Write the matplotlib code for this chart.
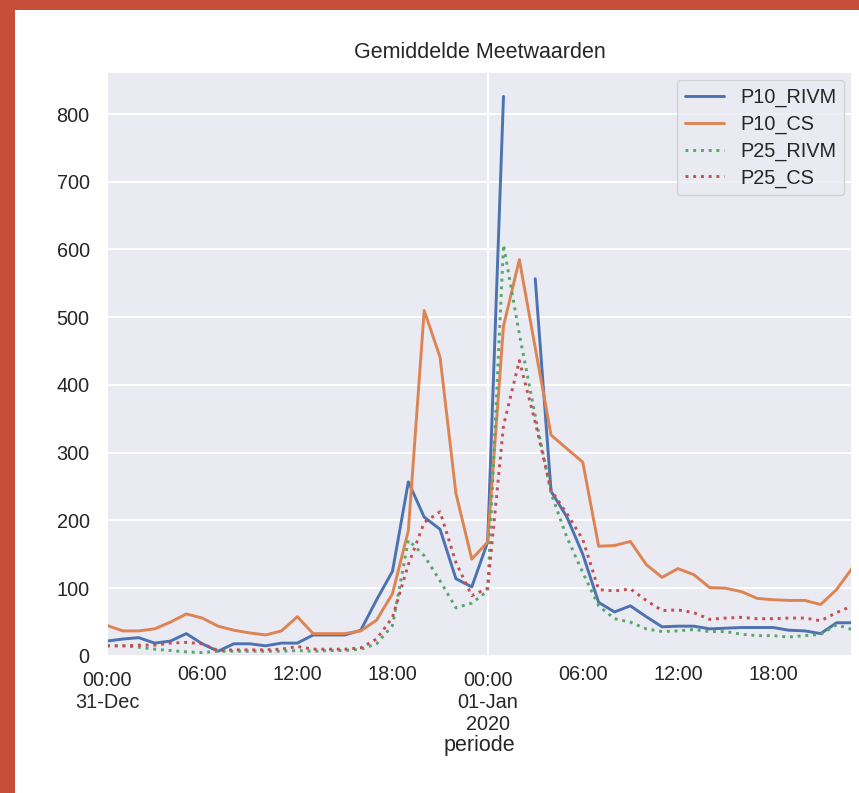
""" Gemiddelde meetwaarden rond de jaarwisseling (P10 / P25, RIVM vs CS). """
import matplotlib

matplotlib.use("Agg")
import matplotlib.pyplot as plt
import numpy as np
import pandas as pd
import seaborn as sns
from matplotlib.patches import Rectangle

#####################################################
# DATA
#####################################################

periode = pd.date_range("2019-12-31 00:00", periods=48, freq="h")

p10_rivm = [22, 25, 27, 19, 22, 33, 18, 7, 18, 18, 15, 19, 19, 31, 31, 31,
            38, 83, 125, 257, 205, 187, 114, 102, 168, 826, np.nan, 557, 243, 205, 150, 79,
            65, 74, 58, 43, 44, 44, 40, 41, 42, 42, 42, 38, 37, 33, 49, 49]
p10_cs = [45, 37, 37, 40, 50, 62, 56, 44, 38, 34, 31, 37, 58, 33, 33, 33,
          37, 53, 92, 185, 510, 441, 240, 143, 168, 487, 585, 455, 326, 306, 286, 162,
          163, 169, 135, 116, 129, 120, 101, 100, 95, 85, 83, 82, 82, 76, 98, 130]
p25_rivm = [15, 15, 13, 10, 8, 6, 5, 7, 7, 7, 7, 7, 8, 7, 8, 8,
            10, 18, 45, 171, 148, 111, 71, 78, 96, 607, 475, 355, 240, 175, 123, 74,
            55, 50, 40, 36, 37, 39, 36, 36, 32, 30, 30, 28, 30, 32, 46, 39]
p25_cs = [15, 15, 16, 16, 19, 20, 18, 8, 9, 9, 9, 10, 14, 10, 10, 10,
          12, 25, 57, 135, 197, 213, 138, 89, 100, 340, 436, 345, 245, 210, 172, 98,
          96, 99, 82, 67, 68, 64, 54, 56, 57, 55, 55, 56, 56, 52, 64, 74]

series_names = ["P10_RIVM", "P10_CS", "P25_RIVM", "P25_CS"]
major_labels = ["00:00\n31-Dec", "00:00\n01-Jan\n2020"]
minor_labels = ["06:00", "12:00", "18:00", "06:00", "12:00", "18:00"]
y_ticks = [0, 100, 200, 300, 400, 500, 600, 700, 800]

#####################################################
# PARAMETERS
#####################################################

colors = ["#4C72B0", "#DD8452", "#55A868", "#C44E52"]
linestyles = ["-", "-", ":", ":"]

#####################################################
# PLOT
#####################################################

sns.set_theme(style="darkgrid")
plt.rcParams["font.family"] = ["Liberation Sans", "DejaVu Sans"]

df = pd.DataFrame(
    dict(zip(series_names, [p10_rivm, p10_cs, p25_rivm, p25_cs])), index=periode
)

fig = plt.figure(figsize=(8.59, 7.93), dpi=100)
fig.patch.set_facecolor("#c54f38")
# white slide panel of the screenshot
fig.add_artist(
    Rectangle((0.018, 0.0), 0.982, 0.987, transform=fig.transFigure,
              facecolor="white", edgecolor="none", zorder=-1)
)

ax = fig.add_axes([0.1246, 0.1728, 0.8677, 0.7364])

for name, color, ls in zip(series_names, colors, linestyles):
    ax.plot(df.index, df[name], color=color, linestyle=ls, linewidth=2.1, label=name)

# format axes
ax.set_xlim(df.index[0], df.index[-1])
ax.set_ylim(0, 862)
ax.set_yticks(y_ticks)

ax.set_xticks(df.index[[0, 24]], major_labels)
ax.set_xticks(df.index[[6, 12, 18, 30, 36, 42]], minor_labels, minor=True)
ax.tick_params(axis="x", which="major", length=0, pad=10.5, labelsize=14.3)
ax.tick_params(axis="x", which="minor", length=0, pad=6.5, labelsize=14.3)
ax.tick_params(axis="y", length=0, pad=12.5, labelsize=14.3)
ax.grid(True, which="major", color="white", linewidth=1.4)

ax.set_title("Gemiddelde Meetwaarden", fontsize=15.5, pad=10)
ax.set_xlabel("periode", fontsize=15.5, labelpad=1)

ax.legend(loc="upper right", fontsize=14.3, handlelength=2.0,
          borderaxespad=0.4, labelspacing=0.38)

fig.savefig("out.png", dpi=100, facecolor=fig.get_facecolor())
plt.close()
